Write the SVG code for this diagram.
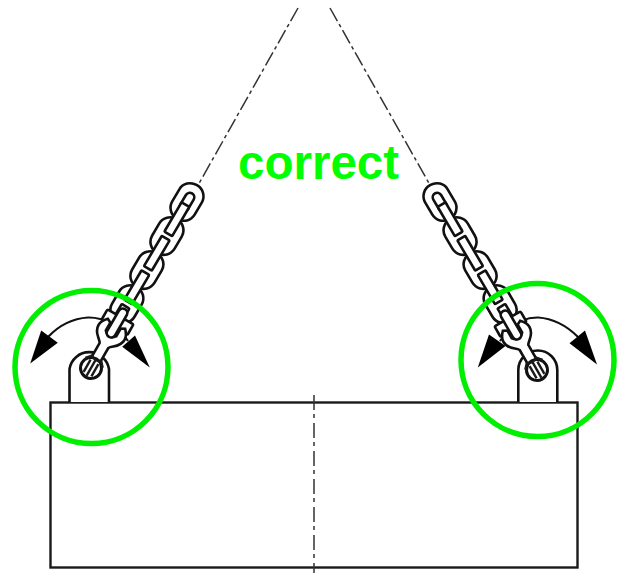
<svg xmlns="http://www.w3.org/2000/svg" width="619" height="573" viewBox="0 0 619 573">
<style>
.l{fill:none;stroke:#1a1a1a;stroke-width:2.4}
.w{fill:#fff;stroke:#111;stroke-width:2.6}
.dd{fill:none;stroke:#333;stroke-width:1.500;stroke-dasharray:15 3.500 3.500 3.500}
.cl{fill:none;stroke:#333;stroke-width:1.500;stroke-dasharray:15 4 4 5}
.ring{fill:none;stroke:#00ee00;stroke-width:5.500}
.arc{fill:none;stroke:#111;stroke-width:2.200}
.hd{fill:#000}
</style>
<defs>
<g id="chain">
<rect class="w" x="-13" y="-19.500" width="26" height="39" rx="12.500"/>
<rect class="w" x="-13" y="20" width="26" height="39" rx="12.500"/>
<rect class="w" x="-13" y="59.500" width="26" height="39" rx="12.500"/>
<rect class="w" x="-13" y="99" width="26" height="39" rx="12.500"/>
<rect class="w" x="-4.500" y="-10" width="9" height="20" rx="4.500"/>
<rect class="w" x="-4.500" y="3" width="9" height="34" rx="1"/>
<rect class="w" x="-4.500" y="42" width="9" height="35" rx="1"/>
<rect class="w" x="-4.500" y="82" width="9" height="34" rx="1"/>
<rect class="w" x="-4.500" y="121" width="9" height="24" rx="1"/>
</g>
<g id="hook">
<rect class="w" x="-15" y="-59" width="30" height="12" rx="1.500"/>
<path class="w" d="M-5,-8 L-5,-26 C-7,-30 -15,-32 -15,-41 C-15,-46 -12,-49 -10,-51 L-6,-49 L-6,-40 Q0,-33 6,-40 L6,-49 L10,-51 C12,-49 15,-46 15,-41 C15,-32 7,-30 5,-26 L5,-8 Z"/>
<rect class="w" x="-4.500" y="-68" width="9" height="32" rx="4.500"/>
<circle cx="0" cy="0" r="10.500" fill="#fff" stroke="#111" stroke-width="3"/>
<path class="l" d="M-4.500,-7V7M0,-9V9M4.500,-7V7" stroke-width="2"/>
<path class="l" d="M-10,-6L-5.500,-11L0,-9L5.500,-11L10,-6" stroke-width="2.400"/>
</g>
</defs>
<g id="body">
<rect class="l" x="50.500" y="402.500" width="527" height="165"/>
<path class="cl" d="M314,395V573"/>
</g>
<g id="connectors">
<path class="dd" d="M298,8L197,187"/>
<path class="dd" d="M330,8L430,185"/>
</g>
<g id="left-lifting-point">
<path class="w" d="M69.500,402V369A20,20 0 0 1 109,369V402"/>
<path class="arc" d="M128,341Q112,317 88,317.500Q65,319 48,337"/>
<polygon class="hd" points="30.200,363.500 41.200,330.500 57.800,342.700"/>
<polygon class="hd" points="149.800,367.500 135,335.500 122.200,346.700"/>
<use href="#chain" transform="translate(187,202) rotate(30.500)"/>
<use href="#hook" transform="translate(91,368) rotate(30)"/>
<circle class="ring" cx="91.500" cy="367" r="76.500"/>
</g>
<g id="right-lifting-point">
<path class="w" d="M518.300,402V370A19.500,19.500 0 0 1 557.300,370V402"/>
<path class="arc" d="M500,341Q516,317 538,317.500Q560,319 578,337"/>
<polygon class="hd" points="477.800,367.500 489,334.500 505.500,346"/>
<polygon class="hd" points="597,364.500 585,330.500 569.500,343.300"/>
<use href="#chain" transform="translate(440,202) rotate(-30.500)"/>
<use href="#hook" transform="translate(537,370) rotate(-30)"/>
<circle class="ring" cx="537.500" cy="360" r="76.500"/>
</g>
<text id="label" x="238" y="179" font-family="Liberation Sans, Arial, sans-serif" font-weight="700" font-size="47.500" fill="#00ff00">correct</text>
</svg>
